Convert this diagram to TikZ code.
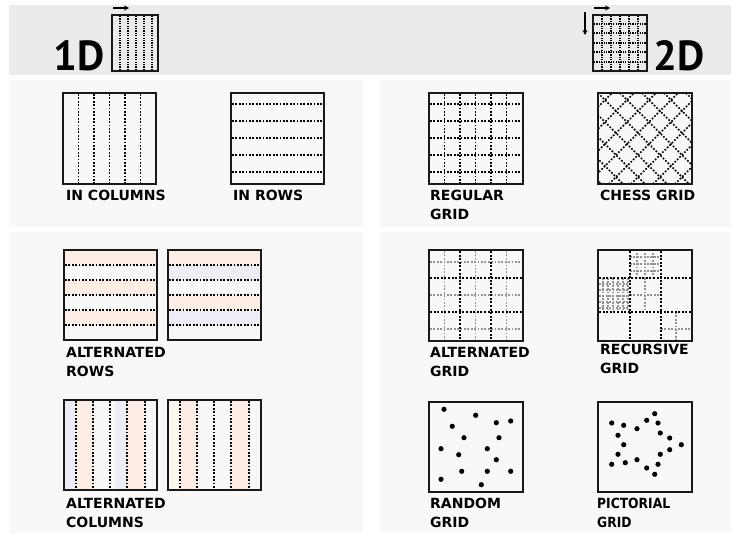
\documentclass[tikz,border=0pt]{standalone}
\usepackage{fontspec}
\setmainfont{DejaVu Sans}
\newfontfamily\headfont{PT Sans}
\usetikzlibrary{arrows.meta}

\definecolor{headgray}{HTML}{EBEBEB}
\definecolor{panelgray}{HTML}{F8F8F8}
\definecolor{peach}{HTML}{FCEEE4}
\definecolor{lavender}{HTML}{EDEDF5}
\definecolor{inkgray}{HTML}{949494}

\tikzset{
	frame/.style={line width=2pt, draw=black!90},
	dots/.style={line width=1.7pt, dash pattern=on 1.7pt off 1.7pt},
	finedots/.style={line width=1.1pt, dash pattern=on 1.1pt off 1.3pt},
	graydots/.style={dots, draw=inkgray},
	heavydots/.style={line width=2pt, dash pattern=on 2pt off 1.6pt},
	gridname/.style={anchor=base west, inner sep=0pt, align=left,
		font=\bfseries\fontsize{14}{19}\selectfont},
	headtext/.style={anchor=base west, inner sep=0pt,
		font=\headfont\bfseries\fontsize{42}{42}\selectfont},
	spot/.style={fill=black},
	tip/.style={-{Stealth[length=5pt,width=5pt]}, line width=1.3pt},
}

\begin{document}
\begin{tikzpicture}[x=1pt,y=-1pt]
	\useasboundingbox (0,0) rectangle (731,533);
	\fill[white] (0,0) rectangle (731,533);
	% bands
	\fill[headgray] (9,5) rectangle (731,75);
	\fill[panelgray] (9,80) rectangle (363,227);
	\fill[panelgray] (380,80) rectangle (731,227);
	\fill[panelgray] (9,232) rectangle (363,533);
	\fill[panelgray] (380,232) rectangle (731,533);

	% header 1D
	\node[headtext] (oneD) at (53,70) {1D};
	\begin{scope}[shift={(112,15)}]
	\foreach \x in {8,16,24,32,40} \draw[finedots] (\x,1) -- (\x,56);
	\draw[frame] (0,0) rectangle (46,56);
	\coordinate (oneTail) at (1,-7);
	\coordinate (oneHead) at (17,-7);
	\end{scope}
	\draw[tip] (oneTail) -- (oneHead);

	% header 2D
	\node[headtext] (twoD) at (653,70) {2D};
	\begin{scope}[shift={(593,15)}]
	\foreach \x in {9,18,27,36,45} \draw[finedots] (\x,1) -- (\x,56);
	\foreach \y in {9,18,28,37,47} \draw[finedots] (1,\y) -- (53,\y);
	\draw[frame] (0,0) rectangle (54,56);
	\coordinate (twoTail) at (1,-7);
	\coordinate (twoHead) at (17,-7);
	\coordinate (downTail) at (-8,-3);
	\coordinate (downHead) at (-8,20);
	\end{scope}
	\draw[tip] (twoTail) -- (twoHead);
	\draw[tip] (downTail) -- (downHead);

	% in columns
	\begin{scope}[shift={(63,93)}]
	\foreach \x in {15.5,31,46.5,62,77.5} \draw[dots] (\x,1) -- (\x,90);
	\draw[frame] (0,0) rectangle (93,91);
	\end{scope}
	\node[gridname] (cols) at (66,200) {IN COLUMNS};

	% in rows
	\begin{scope}[shift={(231,93)}]
	\foreach \y in {11,28,45,62,79} \draw[dots] (1,\y) -- (93,\y);
	\draw[frame] (0,0) rectangle (93,91);
	\end{scope}
	\node[gridname] (rows) at (233,200) {IN ROWS};

	% regular grid
	\begin{scope}[shift={(429,93)}]
	\foreach \x in {15.5,31,46.5,62,77.5} \draw[dots] (\x,1) -- (\x,90);
	\foreach \y in {11,28,45,62,79} \draw[dots] (1,\y) -- (93,\y);
	\draw[frame] (0,0) rectangle (94,91);
	\end{scope}
	\node[gridname] (regular) at (430,219) {REGULAR\\GRID};

	% chess grid
	\begin{scope}[shift={(598,93)}]
	\begin{scope}
	\clip (0,0) rectangle (94,91);
	\foreach \c in {-88,-66,...,110} {
		\draw[dots] (\c,0) -- (\c+91,91);
		\draw[dots] (\c+11,91) -- (\c+102,0);
	}
	\end{scope}
	\draw[frame] (0,0) rectangle (94,91);
	\end{scope}
	\node[gridname] (chess) at (600,200) {CHESS GRID};

	% alternated rows
	\begin{scope}[shift={(64,250)}]
	\foreach \y in {0,30,60} \fill[peach] (0,\y) rectangle (93,\y+15);
	\foreach \y in {15,30,45,60,75} \draw[dots] (1,\y) -- (93,\y);
	\draw[frame] (0,0) rectangle (93,90);
	\end{scope}
	\begin{scope}[shift={(168,250)}]
	\foreach \y in {0,45} {
		\fill[peach] (0,\y) rectangle (93,\y+15);
		\fill[lavender] (0,\y+15) rectangle (93,\y+30);
	}
	\foreach \y in {15,30,45,60,75} \draw[dots] (1,\y) -- (93,\y);
	\draw[frame] (0,0) rectangle (93,90);
	\end{scope}
	\node[gridname] (altrows) at (66,376) {ALTERNATED\\ROWS};

	% alternated columns
	\begin{scope}[shift={(64,400)}]
	\foreach \x in {0,51} {
		\fill[lavender] (\x,0) rectangle (\x+12,90);
		\fill[peach] (\x+12,0) rectangle (\x+29,90);
	}
	\foreach \x in {12,29,46,63,81} \draw[dots] (\x,1) -- (\x,90);
	\draw[frame] (0,0) rectangle (93,90);
	\end{scope}
	\begin{scope}[shift={(168,400)}]
	\fill[peach!50] (0,0) rectangle (12,90);
	\fill[peach] (12,0) rectangle (29,90);
	\fill[peach] (63,0) rectangle (81,90);
	\foreach \x in {12,29,46,63,81} \draw[dots] (\x,1) -- (\x,90);
	\draw[frame] (0,0) rectangle (93,90);
	\end{scope}
	\node[gridname] (altcols) at (66,527) {ALTERNATED\\COLUMNS};

	% alternated grid
	\begin{scope}[shift={(429,250)}]
	\foreach \x in {15.5,46.5,77.5} \draw[graydots] (\x,1) -- (\x,90);
	\foreach \y in {12,45,79} \draw[graydots] (1,\y) -- (93,\y);
	\foreach \x in {31,62} \draw[heavydots] (\x,1) -- (\x,90);
	\foreach \y in {28,62} \draw[heavydots] (1,\y) -- (93,\y);
	\draw[frame] (0,0) rectangle (94,91);
	\end{scope}
	\node[gridname] (altgrid) at (430,376) {ALTERNATED\\GRID};

	% recursive grid
	\begin{scope}[shift={(598,250)}]
	\foreach \x in {39,47,55} \draw[graydots] (\x,3) -- (\x,28);
	\foreach \y in {7,14,21} \draw[graydots] (32,\y) -- (62,\y);
	\foreach \x in {5,10,...,30} \draw[graydots] (\x,28) -- (\x,62);
	\foreach \y in {34,40,...,58} \draw[graydots] (1,\y) -- (31,\y);
	\draw[graydots] (47,28) -- (47,62);
	\draw[graydots] (32,45) -- (62,45);
	\draw[graydots] (78,62) -- (78,90);
	\draw[graydots] (63,79) -- (93,79);
	\foreach \x in {31.5,62.5} \draw[heavydots] (\x,1) -- (\x,90);
	\foreach \y in {28,62} \draw[heavydots] (1,\y) -- (93,\y);
	\draw[frame] (0,0) rectangle (94,91);
	\end{scope}
	\node[gridname] (recursive) at (600,373) {RECURSIVE\\GRID};

	% random grid
	\begin{scope}[shift={(429,402)}]
	\foreach \px/\py in {15/7.3, 46.7/13.3, 67.3/20.7, 81.7/19, 23.3/24.3,
		35/35.7, 70/35.7, 12/46.7, 58.3/46.7, 29.7/52.7, 67.3/57.7,
		32.7/69.3, 58.3/69.3, 81.7/69.3, 12/77.3, 52.3/82.7}
		\fill[spot] (\px,\py) circle (2.6);
	\draw[frame] (0,0) rectangle (94,90);
	\end{scope}
	\node[gridname] (random) at (430,527) {RANDOM\\GRID};

	% pictorial grid
	\begin{scope}[shift={(598,402)}]
	\foreach \px/\py in {56.7/11.7, 13.7/21, 25.7/23.3, 48.7/18.3, 60/21,
		39/26.7, 20/33.3, 62.3/31, 71.7/36, 25.7/42.7, 83.3/42.7,
		71.7/47.7, 62.3/52.3, 20/52.3, 13.7/62.3, 27.3/60.7, 39/57.7,
		60/62.3, 48.7/66, 56.7/72.3}
		\fill[spot] (\px,\py) circle (2.6);
	\draw[frame] (0,0) rectangle (94,90);
	\end{scope}
	\node[gridname, xscale=0.88] (pictorial) at (597,527) {PICTORIAL\\GRID};
\end{tikzpicture}
\end{document}
